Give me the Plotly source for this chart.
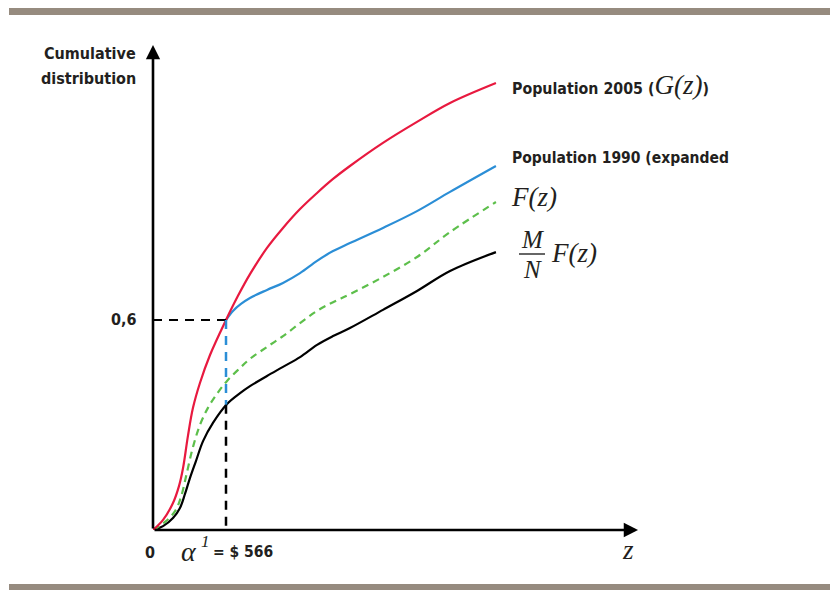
import plotly.graph_objects as go

# ---------------- data (x in $, y = cumulative share) ----------------
x_2005 = [0, 78, 155, 202, 233, 271, 310, 364, 442, 566, 659, 752, 884, 1008, 1140, 1272, 1396, 1527, 1783, 2047, 2303, 2659]
y_2005 = [0, 0.029, 0.077, 0.126, 0.177, 0.269, 0.349, 0.420, 0.500, 0.600, 0.669, 0.731, 0.806, 0.863, 0.917, 0.963, 1.003, 1.040, 1.106, 1.166, 1.220, 1.277]

x_1990exp = [566, 620, 682, 752, 884, 1008, 1140, 1272, 1396, 1527, 1783, 2047, 2303, 2659]
y_1990exp = [0.600, 0.626, 0.646, 0.663, 0.686, 0.706, 0.734, 0.769, 0.797, 0.820, 0.863, 0.911, 0.966, 1.040]

x_F = [0, 93, 171, 217, 264, 310, 364, 426, 496, 574, 675, 752, 884, 1008, 1140, 1272, 1396, 1527, 1783, 2047, 2303, 2659]
y_F = [0, 0.023, 0.054, 0.094, 0.166, 0.237, 0.300, 0.349, 0.389, 0.426, 0.463, 0.489, 0.523, 0.554, 0.591, 0.626, 0.651, 0.674, 0.723, 0.780, 0.851, 0.937]

x_MNF = [0, 78, 155, 209, 248, 287, 333, 388, 465, 574, 675, 752, 884, 1008, 1140, 1272, 1396, 1527, 1783, 2047, 2303, 2659]
y_MNF = [0, 0.011, 0.034, 0.063, 0.103, 0.149, 0.197, 0.254, 0.306, 0.360, 0.391, 0.411, 0.440, 0.466, 0.494, 0.529, 0.554, 0.577, 0.629, 0.683, 0.740, 0.794]

alpha_x = 566
alpha_y = 0.6
alpha_black_y = 0.358
x_max = 3776
y_max = 1.3857

# ---------------- styling ----------------
BOLD = "Liberation Sans Narrow, DejaVu Sans Condensed, Arial Narrow, sans-serif"
SERIF = "Liberation Serif, DejaVu Serif, serif"
RED = "#e8193f"
BLUE = "#2b8ed6"
GREEN = "#5dbf4b"
GRAY = "#968b7f"

OFF = 8  # page body margin
PL, PR, PT, PB = 153, 640, 45, 530  # plot area in window pixels
W, H = 838 - OFF, 590 - OFF
L, T = PL - OFF, PT - OFF
R, B = W - (PR - OFF), H - (PB - OFF)
PW, PH = PR - PL, PB - PT


def px(x):
    return (x - PL) / PW


def py(y):
    return (PB - y) / PH


fig = go.Figure()
for xs, ys, col, dash in [
    (x_MNF, y_MNF, "black", None),
    (x_F, y_F, GREEN, "7px,5px"),
    (x_1990exp, y_1990exp, BLUE, None),
    (x_2005, y_2005, RED, None),
]:
    fig.add_trace(go.Scatter(
        x=xs, y=ys, mode="lines",
        line=dict(color=col, width=2.2, shape="spline", smoothing=1.0, dash=dash),
        hoverinfo="skip", showlegend=False, cliponaxis=False,
    ))

shapes = [
    dict(type="rect", xref="paper", yref="paper", x0=px(9), x1=px(845), y0=py(15), y1=py(7),
         fillcolor=GRAY, line=dict(width=0), layer="above"),
    dict(type="rect", xref="paper", yref="paper", x0=px(9), x1=px(845), y0=py(591), y1=py(584),
         fillcolor=GRAY, line=dict(width=0), layer="above"),
    dict(type="line", xref="x", yref="y", x0=0, x1=alpha_x, y0=alpha_y, y1=alpha_y,
         line=dict(color="black", width=2, dash="9px,7px"), layer="above"),
    dict(type="line", xref="x", yref="y", x0=alpha_x, x1=alpha_x, y0=alpha_y, y1=alpha_black_y,
         line=dict(color=BLUE, width=2.5, dash="9px,7px"), layer="above"),
    dict(type="line", xref="x", yref="y", x0=alpha_x, x1=alpha_x, y0=alpha_black_y, y1=0,
         line=dict(color="black", width=2.5, dash="9px,7px"), layer="above"),
    # fraction bar for M/N
    dict(type="line", xref="paper", yref="paper", x0=px(519), x1=px(545), y0=py(254), y1=py(254),
         line=dict(color="black", width=1.2)),
]

ann = []
# axes arrows
ann.append(dict(x=0, y=y_max, ax=0, ay=0, xref="x", yref="y", axref="x", ayref="y",
                text="", showarrow=True, arrowhead=2, arrowsize=1.1, arrowwidth=2.6, arrowcolor="black"))
ann.append(dict(x=x_max * 0.996, y=0, ax=0, ay=0, xref="x", yref="y", axref="x", ayref="y",
                text="", showarrow=True, arrowhead=2, arrowsize=1.1, arrowwidth=2.6, arrowcolor="black"))


def txt(t, x, y, size, family, xanchor="left", color="#231f20", bold=False, italic=False):
    if bold:
        t = "<b>" + t + "</b>"
    if italic:
        t = "<i>" + t + "</i>"
    ann.append(dict(text=t, x=px(x), y=py(y), xref="paper", yref="paper", showarrow=False,
                    xanchor=xanchor, yanchor="middle", font=dict(size=size, family=family, color=color)))


txt("Cumulative", 138, 53, 16, BOLD, "right", bold=True)
txt("distribution", 138, 78, 16, BOLD, "right", bold=True)
txt("0,6", 139, 319, 16, BOLD, "right", bold=True)
txt("0", 150, 552, 16, BOLD, "center", bold=True)
txt("α", 189, 551, 28, SERIF, "center", italic=True)
txt("1", 205, 541, 17, SERIF, "center", italic=True)
txt("= $ 566", 211, 552, 15.5, BOLD, "left", bold=True)
txt("z", 628, 550, 27, SERIF, "center", italic=True)

txt("<b>Population 2005 (</b><span style='font-family:Liberation Serif;font-style:italic;font-size:27px;font-weight:normal'>G(z)</span><b>)</b>",
    510, 85, 15.8, BOLD, "left")
txt("Population 1990 (expanded", 510, 158, 15.5, BOLD, "left", bold=True)
txt("F(z)", 509, 197, 27, SERIF, "left", italic=True)
txt("M", 532, 239, 25, SERIF, "center", italic=True)
txt("N", 532, 269, 25, SERIF, "center", italic=True)
txt("F(z)", 549, 253, 27, SERIF, "left", italic=True)

fig.update_layout(
    width=W, height=H,
    margin=dict(l=L, r=R, t=T, b=B, pad=0),
    paper_bgcolor="white", plot_bgcolor="white",
    xaxis=dict(range=[0, x_max], visible=False, fixedrange=True),
    yaxis=dict(range=[0, y_max], visible=False, fixedrange=True),
    shapes=shapes, annotations=ann, showlegend=False,
)

fig.write_html("out.html")
